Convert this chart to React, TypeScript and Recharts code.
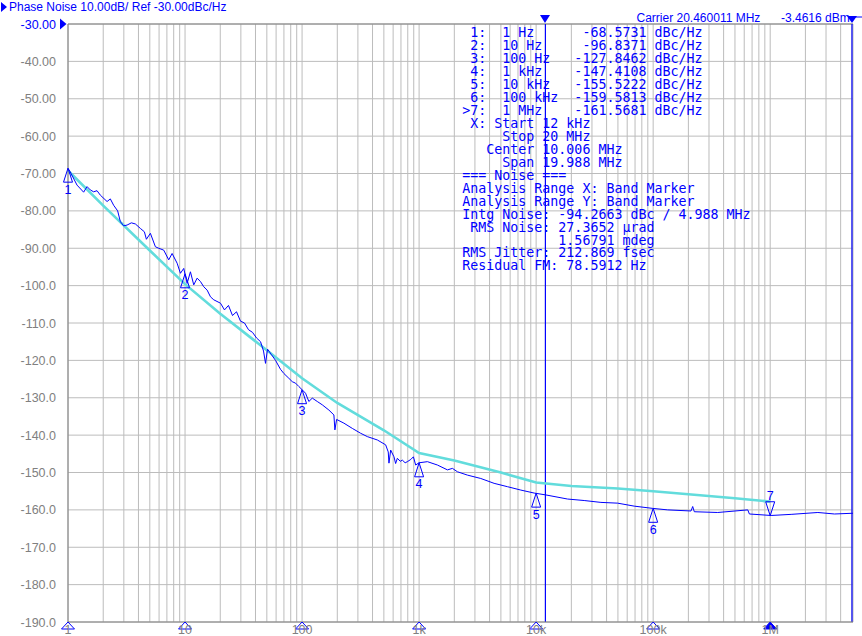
import React from "react";
import {
  ComposedChart,
  Line,
  Scatter,
  XAxis,
  YAxis,
  CartesianGrid,
  ReferenceLine,
} from "recharts";

if (typeof document !== "undefined") document.body.style.margin = "0";

const BLUE = "#0000ff";
const CYAN = "#62dcdc";
const GRID = "#bcbcbc";
const AXIS = "#808080";

// measured trace (offset Hz / dBc/Hz)
const traceFreq = [
  1, 1.046, 1.194, 1.36, 1.454, 1.552, 1.656, 1.77, 1.89, 2.157, 2.3, 2.455,
  2.657, 2.802, 2.99, 3.197, 3.48, 3.765, 4.155, 4.495, 4.676, 5.058, 5.582,
  5.957, 6.574, 7.255, 7.756, 8.558, 9.134, 9.748, 10.42, 11.12, 11.87, 12.69,
  13.54, 14.45, 15.45, 16.5, 17.61, 20.09, 21.73, 23.51, 25.44, 27.53, 29.78,
  32.22, 34.86, 37.72, 40.81, 44.16, 46.85, 48.73, 50.69, 54.84, 59.33, 65.48,
  69.88, 77.13, 82.48, 88.0, 93.9, 100.4, 107.1, 114.3, 122.3, 134.9, 148.9,
  169.6, 187.1, 190.8, 197.3, 227.8, 268.8, 316.5, 361.3, 439.8, 518, 545,
  552.8, 571.5, 610, 630, 652, 690, 720, 760, 794, 850, 894, 935, 998, 1178,
  1434, 1747, 1927, 2126, 2590, 3365, 4373, 5691, 7397, 9614, 12106, 18560,
  25740, 35770, 49700, 68910, 99020, 133000, 210600, 217700, 224700, 356200,
  643300, 664000, 1018000, 1510000, 2554000, 3541000, 5100000,
];
const traceDb = [
  -68.6, -69.6, -73.1, -75.0, -73.5, -74.4, -74.9, -74.6, -75.8, -77.5, -76.8,
  -78.5, -80.0, -82.9, -84.0, -83.8, -83.2, -83.5, -84.7, -85.6, -87.6, -86.0,
  -89.6, -90.0, -90.5, -93.1, -91.4, -94.0, -96.7, -95.4, -99.4, -96.3, -99.8,
  -98.0, -98.9, -100.3, -101.2, -103.0, -103.8, -104.7, -106.5, -105.3, -108.0,
  -107.0, -109.5, -110.0, -111.8, -112.5, -114.0, -115.0, -117.5, -120.8,
  -117.0, -118.5, -120.0, -122.4, -123.5, -124.8, -125.7, -126.1, -127.0,
  -127.9, -128.8, -131.0, -130.1, -131.0, -131.9, -133.3, -134.6, -138.6,
  -135.8, -136.8, -138.2, -139.5, -140.4, -141.3, -142.6, -144.5, -147.5,
  -144.0, -145.8, -147.6, -146.2, -147.0, -146.7, -147.4, -147.1, -146.5,
  -145.8, -148.0, -147.4, -147.1, -148.0, -149.3, -148.9, -149.8, -150.7,
  -151.6, -152.9, -153.8, -154.7, -155.5, -156.0, -157.1, -157.5, -158.0,
  -158.2, -159.0, -159.6, -160.0, -160.3, -159.1, -160.5, -160.7, -160.0,
  -161.1, -161.5, -161.2, -160.7, -161.1, -160.9,
];

// reference / limit line
const refFreq = [
  1, 2, 5, 10, 20, 50, 100, 200, 500, 1000, 2000, 5000, 10000, 20000, 50000,
  100000, 200000, 500000, 1000000,
];
const refDb = [
  -69.2, -78.6, -90.6, -99.6, -107.5, -117.3, -124.8, -131.4, -138.7, -144.8,
  -146.8, -150.0, -152.7, -153.6, -154.3, -155.0, -155.8, -156.9, -157.8,
];

// markers
const markerFreq = [1, 10, 100, 1000, 10000, 100000, 1000000];
const markerDb = [
  -68.5731, -96.8371, -127.8462, -147.4108, -155.5222, -159.5813, -161.5681,
];
const markerLabel = ["1", "2", "3", "4", "5", "6", "7"];

// band markers
const bandFreq = [12000, 5000000];

// axes
const decades = [1, 10, 100, 1000, 10000, 100000, 1000000];
const decadeLabels = ["1", "10", "100", "1k", "10k", "100k", "1M"];
const steps = [1, 2, 3, 4, 5, 6, 7, 8, 9];
const yTicks = [-190, -180, -170, -160, -150, -140, -130, -120, -110, -100, -90, -80, -70, -60, -50, -40, -30];

const readout = [
  " 1:  1 Hz      -68.5731 dBc/Hz",
  " 2:  10 Hz     -96.8371 dBc/Hz",
  " 3:  100 Hz   -127.8462 dBc/Hz",
  " 4:  1 kHz    -147.4108 dBc/Hz",
  " 5:  10 kHz   -155.5222 dBc/Hz",
  " 6:  100 kHz  -159.5813 dBc/Hz",
  ">7:  1 MHz    -161.5681 dBc/Hz",
  " X: Start 12 kHz",
  "     Stop 20 MHz",
  "   Center 10.006 MHz",
  "     Span 19.988 MHz",
  "=== Noise ===",
  "Analysis Range X: Band Marker",
  "Analysis Range Y: Band Marker",
  "Intg Noise: -94.2663 dBc / 4.988 MHz",
  " RMS Noise: 27.3652 \u00b5rad",
  "            1.56791 mdeg",
  "RMS Jitter: 212.869 fsec",
  "Residual FM: 78.5912 Hz",
];

const traceData = traceFreq.map((f, i) => ({ f, db: traceDb[i] }));
const refData = refFreq.map((f, i) => ({ f, db: refDb[i] }));
const markerData = markerFreq.map((f, i) => ({ f, db: markerDb[i], label: markerLabel[i], active: i === markerFreq.length - 1 }));
const axisMarkData = markerFreq.map((f, i) => ({ f, db: -190, active: i === markerFreq.length - 1 }));

const xTicks: number[] = [];
decades.forEach((d) => steps.forEach((s) => { if (d * s <= 5100000) xTicks.push(d * s); }));

const SANS = "'Liberation Sans', Arial, sans-serif";

const fmtY = (v: number) => (v > -100 ? v.toFixed(2) : v.toFixed(1));

const YTick = (p: any) => {
  const v = p.payload.value;
  return (
    <text x={p.x} y={p.y} dy={4.5} textAnchor="end" fontSize={12.5} fontFamily={SANS} fill={v === -30 ? BLUE : AXIS}>
      {fmtY(v)}
    </text>
  );
};

const XTick = (p: any) => {
  const i = decades.indexOf(p.payload.value);
  if (i < 0) return <g />;
  return (
    <text x={p.x} y={p.y} dy={12} textAnchor="middle" fontSize={12.5} fontFamily={SANS} fill={AXIS}>
      {decadeLabels[i]}
    </text>
  );
};

const MarkerShape = (p: any) => {
  const { cx, cy, payload } = p;
  if (payload.active) {
    return (
      <g>
        <polygon points={`${cx},${cy} ${cx - 4.5},${cy - 14} ${cx + 4.5},${cy - 14}`} fill="none" stroke={BLUE} strokeWidth={1} />
        <text x={cx} y={cy - 16} textAnchor="middle" fontSize={12.5} fontFamily={SANS} fill={BLUE}>{payload.label}</text>
      </g>
    );
  }
  return (
    <g>
      <polygon points={`${cx},${cy} ${cx - 4.5},${cy + 14} ${cx + 4.5},${cy + 14}`} fill="none" stroke={BLUE} strokeWidth={1} />
      <text x={cx} y={cy + 25.5} textAnchor="middle" fontSize={12.5} fontFamily={SANS} fill={BLUE}>{payload.label}</text>
    </g>
  );
};

const AxisMarkShape = (p: any) => {
  const { cx, cy, payload } = p;
  return (
    <polygon
      points={`${cx},${cy} ${cx - 6.5},${cy + 7} ${cx + 6.5},${cy + 7}`}
      fill={payload.active ? BLUE : "none"}
      stroke={BLUE}
      strokeWidth={1}
    />
  );
};

export default function App() {
  return (
    <div style={{ position: "relative", width: 862, height: 636, background: "#fff", overflow: "hidden" }}>
      <ComposedChart width={862} height={636} margin={{ top: 24, right: 9, bottom: 0, left: 8 }}>
        <CartesianGrid stroke={GRID} strokeDasharray="" />
        <XAxis
          dataKey="f"
          type="number"
          scale="log"
          domain={[1, 5100000]}
          ticks={xTicks}
          interval={0}
          height={14}
          tickSize={0}
          tickMargin={0}
          tickLine={false}
          axisLine={{ stroke: AXIS }}
          tick={XTick}
        />
        <YAxis
          dataKey="db"
          type="number"
          domain={[-190, -30]}
          ticks={yTicks}
          interval={0}
          width={60}
          tickSize={0}
          tickMargin={12}
          tickLine={false}
          axisLine={{ stroke: AXIS }}
          tick={YTick}
        />
        <ReferenceLine y={-30} stroke={AXIS} />
        {bandFreq.map((f) => (
          <ReferenceLine key={f} x={f} stroke={BLUE} strokeWidth={1.2} />
        ))}
        <Line data={refData} dataKey="db" stroke={CYAN} strokeWidth={2.6} dot={false} isAnimationActive={false} />
        <Line data={traceData} dataKey="db" stroke={BLUE} strokeWidth={1} dot={false} isAnimationActive={false} />
        <Scatter data={markerData} dataKey="db" shape={MarkerShape} isAnimationActive={false} />
        <Scatter data={axisMarkData} dataKey="db" shape={AxisMarkShape} isAnimationActive={false} />
      </ComposedChart>
      <svg width={862} height={636} style={{ position: "absolute", left: 0, top: 0, pointerEvents: "none" }}>
        <polygon points="1,2 1,12 7,7" fill={BLUE} />
        <text x={9} y={11} fontSize={12} fontFamily={SANS} fill={BLUE}>Phase Noise 10.00dB/ Ref -30.00dBc/Hz</text>
        <polygon points="60,18.5 60,29.5 66.5,24" fill={BLUE} />
        <text x={636.5} y={22} fontSize={12} fontFamily={SANS} fill={BLUE}>Carrier 20.460011 MHz</text>
        <text x={781} y={22} fontSize={12} fontFamily={SANS} fill={BLUE}>-3.4616 dBm</text>
        <polygon points="540,15 550,15 545,23" fill={BLUE} />
        <line x1={848} y1={17} x2={862} y2={17} stroke={BLUE} />
        <polygon points="847,16 857,16 852,23" fill={BLUE} />
        {readout.map((s, i) => (
          <text
            key={i}
            x={462.3}
            y={37 + i * 12.97}
            fontSize={13.3}
            fontFamily="'DejaVu Sans Mono', monospace"
            fill={BLUE}
            style={{ whiteSpace: "pre" }}
          >
            {s}
          </text>
        ))}
      </svg>
    </div>
  );
}
